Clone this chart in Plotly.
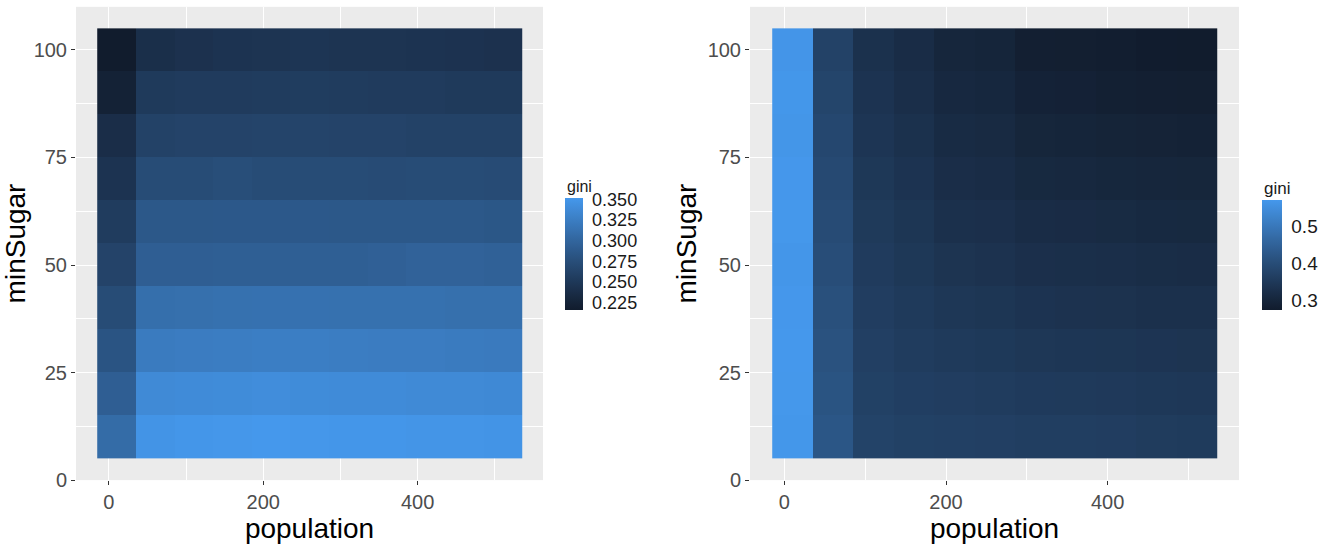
import plotly.graph_objects as go

# ---------------- data ----------------
population = [10, 60, 110, 160, 210, 260, 310, 360, 410, 460, 510]
min_sugar = [10, 20, 30, 40, 50, 60, 70, 80, 90, 100]

# left panel: rows = minSugar (10 .. 100), columns = population
gini_left_10 = [0.307, 0.348, 0.350, 0.351, 0.352, 0.351, 0.350, 0.350, 0.349, 0.349, 0.348]
gini_left_20 = [0.293, 0.338, 0.339, 0.340, 0.341, 0.340, 0.339, 0.339, 0.338, 0.338, 0.337]
gini_left_30 = [0.282, 0.323, 0.324, 0.325, 0.326, 0.326, 0.325, 0.324, 0.324, 0.323, 0.322]
gini_left_40 = [0.273, 0.310, 0.311, 0.312, 0.313, 0.313, 0.312, 0.312, 0.312, 0.311, 0.311]
gini_left_50 = [0.263, 0.293, 0.293, 0.294, 0.294, 0.294, 0.294, 0.295, 0.297, 0.297, 0.296]
gini_left_60 = [0.255, 0.286, 0.286, 0.287, 0.287, 0.287, 0.286, 0.286, 0.286, 0.286, 0.285]
gini_left_70 = [0.245, 0.273, 0.273, 0.275, 0.273, 0.273, 0.273, 0.272, 0.273, 0.273, 0.272]
gini_left_80 = [0.238, 0.262, 0.263, 0.263, 0.264, 0.264, 0.263, 0.263, 0.262, 0.262, 0.262]
gini_left_90 = [0.224, 0.253, 0.254, 0.254, 0.255, 0.256, 0.255, 0.254, 0.254, 0.253, 0.253]
gini_left_100 = [0.2165, 0.240, 0.243, 0.245, 0.246, 0.247, 0.246, 0.246, 0.245, 0.244, 0.243]

# right panel: columns = population, each listed for minSugar 10 .. 100
gini_right_p10 = [0.569, 0.571, 0.572, 0.570, 0.568, 0.571, 0.570, 0.567, 0.569, 0.566]
gini_right_p60 = [0.424, 0.418, 0.413, 0.409, 0.403, 0.398, 0.392, 0.388, 0.381, 0.374]
gini_right_p110 = [0.377, 0.372, 0.368, 0.363, 0.358, 0.354, 0.349, 0.343, 0.338, 0.332]
gini_right_p160 = [0.371, 0.366, 0.360, 0.355, 0.349, 0.344, 0.338, 0.332, 0.326, 0.320]
gini_right_p210 = [0.370, 0.363, 0.355, 0.347, 0.339, 0.331, 0.324, 0.317, 0.310, 0.303]
gini_right_p260 = [0.368, 0.360, 0.352, 0.344, 0.336, 0.328, 0.321, 0.314, 0.307, 0.300]
gini_right_p310 = [0.365, 0.356, 0.347, 0.338, 0.329, 0.320, 0.311, 0.302, 0.294, 0.286]
gini_right_p360 = [0.364, 0.355, 0.345, 0.336, 0.327, 0.318, 0.309, 0.300, 0.292, 0.284]
gini_right_p410 = [0.363, 0.353, 0.344, 0.334, 0.325, 0.316, 0.306, 0.297, 0.288, 0.281]
gini_right_p460 = [0.359, 0.350, 0.341, 0.331, 0.322, 0.313, 0.304, 0.295, 0.285, 0.277]
gini_right_p510 = [0.357, 0.348, 0.339, 0.330, 0.320, 0.311, 0.302, 0.293, 0.284, 0.276]

x_ticks = [0, 200, 400]
y_ticks = [0, 25, 50, 75, 100]
left_bar_ticks = [0.225, 0.250, 0.275, 0.300, 0.325, 0.350]
right_bar_ticks = [0.3, 0.4, 0.5]

z_left = [gini_left_10, gini_left_20, gini_left_30, gini_left_40, gini_left_50,
          gini_left_60, gini_left_70, gini_left_80, gini_left_90, gini_left_100]
right_cols = [gini_right_p10, gini_right_p60, gini_right_p110, gini_right_p160,
              gini_right_p210, gini_right_p260, gini_right_p310, gini_right_p360,
              gini_right_p410, gini_right_p460, gini_right_p510]
z_right = [[col[i] for col in right_cols] for i in range(len(min_sugar))]


# ---------------- ggplot2-like gradient (Lab interpolation) ----------------
def _lin(c):
    c = c / 255.0
    return c / 12.92 if c <= 0.04045 else ((c + 0.055) / 1.055) ** 2.4


def _delin(c):
    c = 12.92 * c if c <= 0.0031308 else 1.055 * max(c, 0) ** (1 / 2.4) - 0.055
    return max(0, min(255, round(c * 255)))


WHITE = (0.95047, 1.0, 1.08883)


def hex_to_lab(h):
    r, g, b = (_lin(int(h[i:i + 2], 16)) for i in (1, 3, 5))
    X = 0.4124564 * r + 0.3575761 * g + 0.1804375 * b
    Y = 0.2126729 * r + 0.7151522 * g + 0.0721750 * b
    Z = 0.0193339 * r + 0.1191920 * g + 0.9503041 * b

    def f(t):
        return t ** (1 / 3) if t > 216 / 24389 else (24389 / 27 * t + 16) / 116

    fx, fy, fz = f(X / WHITE[0]), f(Y / WHITE[1]), f(Z / WHITE[2])
    return 116 * fy - 16, 500 * (fx - fy), 200 * (fy - fz)


def lab_to_hex(L, a, b):
    fy = (L + 16) / 116
    fx = fy + a / 500
    fz = fy - b / 200

    def finv(t):
        return t ** 3 if t ** 3 > 216 / 24389 else (116 * t - 16) / (24389 / 27)

    X, Y, Z = finv(fx) * WHITE[0], finv(fy) * WHITE[1], finv(fz) * WHITE[2]
    r = 3.2404542 * X - 1.5371385 * Y - 0.4985314 * Z
    g = -0.9692660 * X + 1.8760108 * Y + 0.0415560 * Z
    bb = 0.0556434 * X - 0.2040259 * Y + 1.0572252 * Z
    return "#%02x%02x%02x" % (_delin(r), _delin(g), _delin(bb))


# end colours as they appear in the (slightly darkened) reference picture
lo, hi = hex_to_lab("#111C2D"), hex_to_lab("#4598EC")
N = 20
colorscale = [[i / N, lab_to_hex(*(lo[k] + (hi[k] - lo[k]) * i / N for k in range(3)))]
              for i in range(N + 1)]

FONT = "Liberation Sans, Arial, sans-serif"
W, H = 1331, 546


def px_x(v):
    return v / W


def px_y(v):
    return 1 - v / H


def bar(xpx, ypx, length, thick, vals, fmt, size):
    return dict(
        x=px_x(xpx), xanchor="left", y=px_y(ypx), yanchor="middle",
        lenmode="pixels", len=length, thicknessmode="pixels", thickness=thick,
        outlinewidth=0, tickvals=vals, ticktext=[fmt % v for v in vals],
        ticks="outside", ticklen=6, tickcolor="rgba(0,0,0,0)",
        tickfont=dict(size=size, color="#1a1a1a", family=FONT), xpad=0, ypad=0,
    )


fig = go.Figure()

fig.add_trace(go.Heatmap(
    x=population, y=min_sugar, z=z_left, colorscale=colorscale,
    xaxis="x", yaxis="y",
    colorbar=bar(565, 259, 112, 18, left_bar_ticks, "%.3f", 18),
))

fig.add_trace(go.Heatmap(
    x=population, y=min_sugar, z=z_right, colorscale=colorscale,
    xaxis="x2", yaxis="y2",
    colorbar=bar(1262, 260, 110, 20, right_bar_ticks, "%.1f", 19),
))

common_x = dict(
    range=[-42.5, 562.5], tickvals=x_ticks, ticks="outside", ticklen=4, tickcolor="#333333",
    tickfont=dict(size=20, color="#4d4d4d", family=FONT),
    showgrid=True, gridcolor="white", gridwidth=1.2, zeroline=False, showline=False,
    minor=dict(tickvals=[100, 300, 500], showgrid=True, gridcolor="white", gridwidth=0.6, ticks=""),
    title=dict(text="population", font=dict(size=28, color="black", family=FONT), standoff=2),
    fixedrange=True,
)
common_y = dict(
    range=[0, 110], tickvals=y_ticks, ticks="outside", ticklen=4, tickcolor="#333333",
    tickfont=dict(size=20, color="#4d4d4d", family=FONT),
    showgrid=True, gridcolor="white", gridwidth=1.2, zeroline=False, showline=False,
    minor=dict(tickvals=[12.5, 37.5, 62.5, 87.5], showgrid=True, gridcolor="white", gridwidth=0.6, ticks=""),
    title=dict(text="minSugar", font=dict(size=28, color="black", family=FONT), standoff=2),
    fixedrange=True,
)

fig.update_layout(
    width=W, height=H,
    margin=dict(l=0, r=0, t=0, b=0),
    paper_bgcolor="white", plot_bgcolor="#EBEBEB",
    font=dict(family=FONT),
    xaxis=dict(common_x, domain=[px_x(76), px_x(543)], anchor="y"),
    yaxis=dict(common_y, domain=[px_y(490), px_y(7)], anchor="x"),
    xaxis2=dict(common_x, domain=[px_x(750), px_x(1239)], anchor="y2"),
    yaxis2=dict(common_y, domain=[px_y(490), px_y(7)], anchor="x2"),
    showlegend=False,
    annotations=[
        dict(text="gini", x=px_x(565), y=px_y(190), xref="paper", yref="paper",
             xanchor="left", yanchor="middle", showarrow=False,
             font=dict(size=16, color="#1a1a1a", family=FONT)),
        dict(text="gini", x=px_x(1262), y=px_y(192), xref="paper", yref="paper",
             xanchor="left", yanchor="middle", showarrow=False,
             font=dict(size=17, color="#1a1a1a", family=FONT)),
    ],
)

fig.write_html("out.html", config={"displayModeBar": False},
               post_script="document.body.style.margin='0px';")
